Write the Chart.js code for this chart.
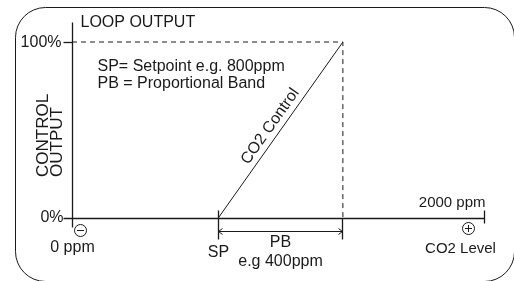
<!DOCTYPE html>
<html>
<head>
<meta charset="utf-8">
<script src="https://cdn.jsdelivr.net/npm/chart.js@4.4.0/dist/chart.umd.min.js"></script>
<style>
  html, body { margin: 0; padding: 0; background: #fff; }
  #wrap { position: relative; width: 514px; height: 281px; }
</style>
</head>
<body>
<div id="wrap"><canvas id="chart" width="514" height="281"></canvas></div>
<script>
// CO2 level (ppm) on x, loop output (%) on y
const xRange = [0, 2000];
const yRange = [0, 100];
const controlPpm = [710, 1315];   // SP .. SP+PB, as drawn in the sketch
const controlOut = [0, 100];
const yTickLabels = ['0%', '100%'];
const xTickLabels = ['0 ppm', '2000 ppm'];
const notes = ['SP= Setpoint e.g. 800ppm', 'PB = Proportional Band'];
const bandLabels = ['SP', 'PB', 'e.g 400ppm'];

const INK = '#1a1a1a';
const FONT = '"Liberation Sans", Arial, sans-serif';

const snap = p => Math.round(p - 0.5) + 0.5;

function line(ctx, x1, y1, x2, y2, w) {
  ctx.lineWidth = w || 1;
  ctx.beginPath();
  ctx.moveTo(x1, y1);
  ctx.lineTo(x2, y2);
  ctx.stroke();
}

function text(ctx, str, x, y, align, size) {
  ctx.font = (size || 16) + 'px ' + FONT;
  ctx.textAlign = align || 'left';
  ctx.textBaseline = 'middle';
  ctx.fillText(str, x, y);
}

function signCircle(ctx, x, y, plus) {
  ctx.lineWidth = 1;
  ctx.beginPath();
  ctx.arc(x, y, 6, 0, Math.PI * 2);
  ctx.stroke();
  line(ctx, x - 3.5, y, x + 3.5, y);
  if (plus) line(ctx, x, y - 3.5, x, y + 3.5);
}

const diagram = {
  id: 'diagram',
  afterDraw(chart) {
    const { ctx } = chart;
    const xs = chart.scales.x, ys = chart.scales.y;
    const x0 = snap(xs.getPixelForValue(xRange[0]));
    const xEnd = snap(xs.getPixelForValue(xRange[1]));
    const y0 = snap(ys.getPixelForValue(yRange[0]));
    const y100 = snap(ys.getPixelForValue(yRange[1]));
    const sp = snap(xs.getPixelForValue(controlPpm[0]));
    const pb = snap(xs.getPixelForValue(controlPpm[1]));

    ctx.save();
    ctx.strokeStyle = INK;
    ctx.fillStyle = INK;

    // rounded frame
    ctx.lineWidth = 1;
    ctx.beginPath();
    ctx.roundRect(15.5, 7.5, 499, 274, 30);
    ctx.stroke();

    // axes
    line(ctx, x0, y100 - 20, x0, y0 + 9, 1.3);
    line(ctx, x0 - 9, y0, xEnd, y0, 1.6);
    line(ctx, x0 - 9, y100, x0, y100, 1.3);
    line(ctx, xEnd, y0 - 8, xEnd, y0 + 5, 1.3);

    // SP / PB markers and the band arrow
    line(ctx, sp, y0 - 8, sp, y0 + 21, 1.3);
    line(ctx, pb, y0, pb, y0 + 21, 1.3);
    const ay = y0 + 13;
    line(ctx, sp, ay, pb, ay, 1.2);
    line(ctx, sp, ay, sp + 4, ay - 3);
    line(ctx, sp, ay, sp + 4, ay + 3);
    line(ctx, pb, ay, pb - 4, ay - 3);
    line(ctx, pb, ay, pb - 4, ay + 3);

    signCircle(ctx, x0 + 8, y0 + 12, false);
    signCircle(ctx, xEnd - 16, y0 + 10, true);

    // labels
    text(ctx, 'LOOP OUTPUT', x0 + 8, y100 - 20);
    text(ctx, yTickLabels[1], x0 - 11, y100, 'right');
    text(ctx, yTickLabels[0], x0 - 9, y0 - 1, 'right');
    text(ctx, xTickLabels[0], x0, y0 + 29, 'center');
    text(ctx, xTickLabels[1], xEnd + 1, y0 - 16, 'right', 15);
    text(ctx, 'CO2 Level', xEnd - 24, y0 + 30, 'center', 15);
    text(ctx, bandLabels[0], sp, y0 + 34, 'center');
    text(ctx, bandLabels[1], (sp + pb) / 2, y0 + 24, 'center');
    text(ctx, bandLabels[2], (sp + pb) / 2, y0 + 43, 'center');
    text(ctx, notes[0], x0 + 25, y100 + 24);
    text(ctx, notes[1], x0 + 25, y100 + 41);

    // rotated y title
    ctx.save();
    ctx.translate(43, 177);
    ctx.rotate(-Math.PI / 2);
    text(ctx, 'CONTROL', 0, 0, 'left', 17);
    text(ctx, 'OUTPUT', 0, 14, 'left', 17);
    ctx.restore();

    // label along the control line
    const lx1 = xs.getPixelForValue(controlPpm[0]), ly1 = ys.getPixelForValue(controlOut[0]);
    const lx2 = xs.getPixelForValue(controlPpm[1]), ly2 = ys.getPixelForValue(controlOut[1]);
    const ang = Math.atan2(ly2 - ly1, lx2 - lx1);
    const len = Math.hypot(lx2 - lx1, ly2 - ly1);
    const dx = (lx2 - lx1) / len, dy = (ly2 - ly1) / len;
    const mx = (lx1 + lx2) / 2 - 3 * dx + 10.5 * dy;
    const my = (ly1 + ly2) / 2 - 3 * dy - 10.5 * dx;
    ctx.save();
    ctx.translate(mx, my);
    ctx.rotate(ang);
    text(ctx, 'CO2 Control', 0, 0, 'center', 16);
    ctx.restore();

    ctx.restore();
  }
};

new Chart(document.getElementById('chart'), {
  type: 'scatter',
  data: {
    datasets: [
      {
        label: 'CO2 Control',
        data: controlPpm.map((v, i) => ({ x: v, y: controlOut[i] })),
        showLine: true,
        borderColor: INK,
        borderWidth: 1,
        pointRadius: 0,
        clip: false
      },
      {
        label: 'limits',
        data: [
          { x: xRange[0], y: controlOut[1] },
          { x: controlPpm[1], y: controlOut[1] },
          { x: controlPpm[1], y: controlOut[0] }
        ],
        showLine: true,
        borderColor: INK,
        borderWidth: 1,
        borderDash: [5, 4],
        pointRadius: 0,
        clip: false
      }
    ]
  },
  options: {
    responsive: false,
    animation: false,
    events: [],
    layout: { padding: { left: 72, right: 30, top: 42, bottom: 63 } },
    scales: {
      x: { type: 'linear', min: xRange[0], max: xRange[1], display: false },
      y: { type: 'linear', min: yRange[0], max: yRange[1], display: false }
    },
    plugins: { legend: { display: false }, tooltip: { enabled: false } }
  },
  plugins: [diagram]
});
</script>
</body>
</html>
